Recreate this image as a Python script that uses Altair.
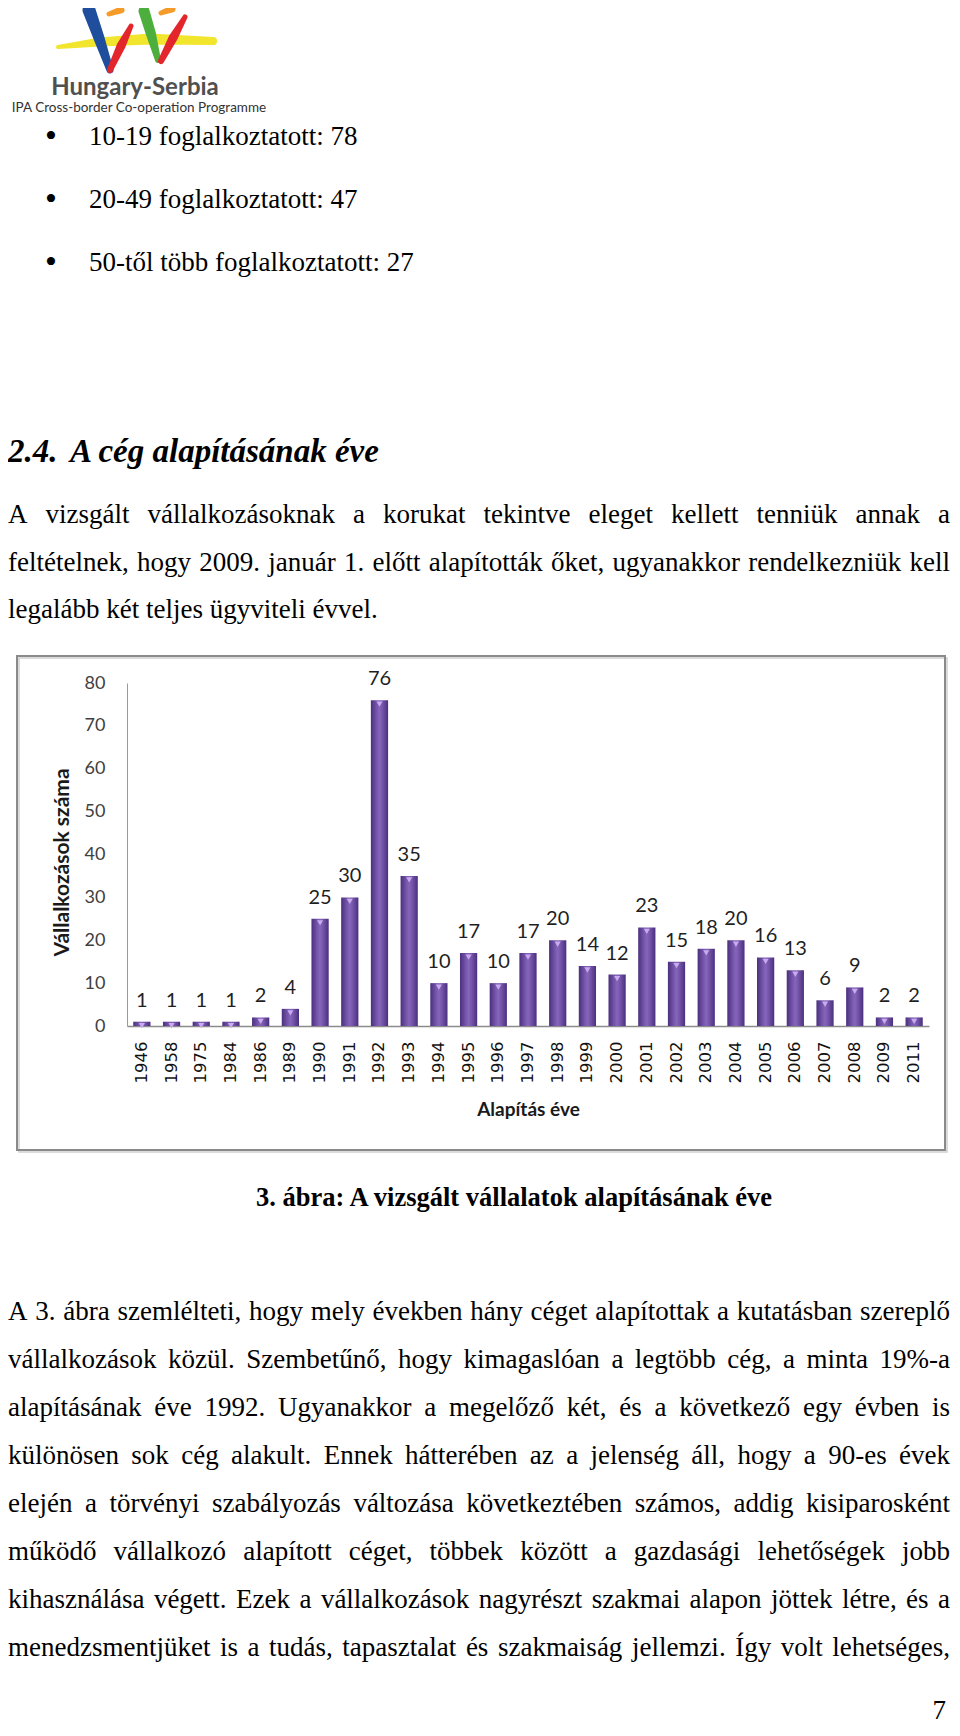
import unicodedata
import altair as alt
import pandas as pd

# ---------------- chart data ----------------
years = ["1946", "1958", "1975", "1984", "1986", "1989", "1990", "1991", "1992", "1993",
         "1994", "1995", "1996", "1997", "1998", "1999", "2000", "2001", "2002", "2003",
         "2004", "2005", "2006", "2007", "2008", "2009", "2011"]
counts = [1, 1, 1, 1, 2, 4, 25, 30, 76, 35, 10, 17, 10, 17, 20, 14, 12, 23, 15, 18,
          20, 16, 13, 6, 9, 2, 2]
y_ticks = [0, 10, 20, 30, 40, 50, 60, 70, 80]
y_title = "Vállalkozások száma"
x_title = "Alapítás éve"

# ---------------- page text ----------------
logo_title = "Hungary-Serbia"
logo_sub = "IPA Cross-border Co-operation Programme"
bullets = ["10-19 foglalkoztatott: 78", "20-49 foglalkoztatott: 47", "50-től több foglalkoztatott: 27"]
heading_num = "2.4."
heading_text = "A cég alapításának éve"
para1 = ["A vizsgált vállalkozásoknak a korukat tekintve eleget kellett tenniük annak a",
         "feltételnek, hogy 2009. január 1. előtt alapították őket, ugyanakkor rendelkezniük kell",
         "legalább két teljes ügyviteli évvel."]
caption = "3. ábra: A vizsgált vállalatok alapításának éve"
para2 = ["A 3. ábra szemlélteti, hogy mely években hány céget alapítottak a kutatásban szereplő",
         "vállalkozások közül. Szembetűnő, hogy kimagaslóan a legtöbb cég, a minta 19%-a",
         "alapításának éve 1992. Ugyanakkor a megelőző két, és a következő egy évben is",
         "különösen sok cég alakult. Ennek hátterében az a jelenség áll, hogy a 90-es évek",
         "elején a törvényi szabályozás változása következtében számos, addig kisiparosként",
         "működő vállalkozó alapított céget, többek között a gazdasági lehetőségek jobb",
         "kihasználása végett. Ezek a vállalkozások nagyrészt szakmai alapon jöttek létre, és a",
         "menedzsmentjüket is a tudás, tapasztalat és szakmaiság jellemzi. Így volt lehetséges,"]
page_no = "7"

# ---------------- layout (page pixels) ----------------
PX0, PY0 = 127, 683          # plot-area origin on the page
PLOT_W, PLOT_H = 802, 343
L_EDGE, R_EDGE = 8, 950
BODY = 27
LS1 = 47.5
LS2 = 48.0

def rx(x):
    return x - PX0

def ry(y):
    return y - PY0

# Times / Liberation Serif advance widths (per 1000 em)
_TW = {' ': 250, '.': 250, ',': 250, ':': 278, ';': 278, '-': 333, '%': 833, '•': 350}
_TW.update({d: 500 for d in "0123456789"})
_TW.update(dict(zip("abcdefghijklmnopqrstuvwxyz",
                    [444, 500, 444, 500, 444, 333, 500, 500, 278, 278, 500, 278, 778, 500, 500,
                     500, 500, 333, 389, 278, 500, 500, 722, 500, 500, 444])))
_TW.update(dict(zip("ABCDEFGHIJKLMNOPQRSTUVWXYZ",
                    [722, 667, 667, 722, 611, 556, 722, 722, 333, 389, 722, 611, 889, 722, 722,
                     556, 722, 667, 556, 611, 722, 722, 944, 722, 722, 611])))

def tw(s, size):
    tot = 0
    for ch in s:
        base = unicodedata.normalize("NFD", ch)[0]
        tot += _TW.get(base, 500)
    return tot * size / 1000.0

def layout_line(line, y, justify):
    words = line.split(" ")
    widths = [tw(w, BODY) for w in words]
    space = tw(" ", BODY)
    if justify and len(words) > 1:
        gap = (R_EDGE - L_EDGE - sum(widths)) / (len(words) - 1)
        gap = max(gap, 3.0)
    else:
        gap = space
    rows, x = [], L_EDGE
    for w, wd in zip(words, widths):
        rows.append({"t": w, "x": rx(x), "y": ry(y)})
        x += wd + gap
    return rows

body_rows = []
bullet_rows = []
for i, b in enumerate(bullets):
    yb = 137 + i * 63
    bullet_rows.append({"t": "•", "x": rx(45), "y": ry(yb)})
    body_rows.append({"t": b, "x": rx(89), "y": ry(yb)})
for i, line in enumerate(para1):
    body_rows += layout_line(line, 515 + i * LS1, i < len(para1) - 1)
for i, line in enumerate(para2):
    body_rows += layout_line(line, 1312 + i * LS2, True)
body_df = pd.DataFrame(body_rows)

def text_layer(df, font, size, weight="normal", style="normal", align="left", color="#000000"):
    return alt.Chart(df).mark_text(
        font=font, fontSize=size, fontWeight=weight, fontStyle=style,
        align=align, baseline="middle", color=color
    ).encode(
        x=alt.X("x:Q", scale=None, axis=None),
        y=alt.Y("y:Q", scale=None, axis=None),
        text="t:N",
    )

body = text_layer(body_df, "Liberation Serif", BODY)
bul = text_layer(pd.DataFrame(bullet_rows), "Liberation Serif", 34)
heading = text_layer(pd.DataFrame([{"t": heading_num, "x": rx(8), "y": ry(452)},
                                   {"t": heading_text, "x": rx(70), "y": ry(452)}]),
                     "Liberation Serif", 33, weight="bold", style="italic")
cap = text_layer(pd.DataFrame([{"t": caption, "x": rx(514), "y": ry(1198)}]),
                 "Liberation Serif", 26.5, weight="bold", align="center")
pnum = text_layer(pd.DataFrame([{"t": page_no, "x": rx(946), "y": ry(1711)}]),
                  "Liberation Serif", 27, align="right")
logo_t1 = text_layer(pd.DataFrame([{"t": logo_title, "x": rx(135), "y": ry(88)}]),
                     "Lato", 24, weight="bold", align="center", color="#505050")
logo_t2 = text_layer(pd.DataFrame([{"t": logo_sub, "x": rx(139), "y": ry(108)}]),
                     "Lato", 13.5, align="center", color="#333333")

# ---------------- logo strokes (decorative) ----------------
strokes = [
    ("#f1e52e", [(58, 47, 4), (100, 42, 9), (150, 39, 11), (213, 41, 8)]),
    ("#1f4e9c", [(89, 10, 13), (99, 38, 11), (110, 70, 7)]),
    ("#4cae3c", [(144, 11, 11), (151, 34, 10), (158, 60, 6)]),
    ("#e3262b", [(131, 26, 5), (121, 46, 9), (110, 70, 6)]),
    ("#e3262b", [(185, 17, 5), (173, 38, 9), (161, 61, 6)]),
    ("#f59b2a", [(109, 14, 5), (121, 10, 7)]),
    ("#f59b2a", [(161, 13, 5), (172, 9, 7)]),
]
logo_layers = []
for col, pts in strokes:
    d = pd.DataFrame([{"x": rx(a), "y": ry(b), "w": w, "i": k} for k, (a, b, w) in enumerate(pts)])
    logo_layers.append(
        alt.Chart(d).mark_trail(color=col).encode(
            x=alt.X("x:Q", scale=None, axis=None),
            y=alt.Y("y:Q", scale=None, axis=None),
            size=alt.Size("w:Q", scale=None, legend=None),
            order="i:Q",
        )
    )

# ---------------- chart frame ----------------
frame_df = pd.DataFrame([{"x": rx(17), "x2": rx(945), "y": ry(656), "y2": ry(1150)}])
shadow_df = pd.DataFrame([{"x": rx(19), "x2": rx(947), "y": ry(658), "y2": ry(1152)}])

def frame_layer(df, color, width):
    return alt.Chart(df).mark_rect(fillOpacity=0, stroke=color, strokeWidth=width).encode(
        x=alt.X("x:Q", scale=None, axis=None), x2="x2:Q",
        y=alt.Y("y:Q", scale=None, axis=None), y2="y2:Q",
    )

frame_shadow = frame_layer(shadow_df, "#cfcfcf", 1.5)
frame = frame_layer(frame_df, "#8a8a8a", 2)

# ---------------- bar chart ----------------
df = pd.DataFrame({"year": years, "count": counts})

bar_grad = alt.Gradient(
    gradient="linear",
    stops=[alt.GradientStop(color="#4a2f7e", offset=0),
           alt.GradientStop(color="#7152a6", offset=0.3),
           alt.GradientStop(color="#8566ba", offset=0.5),
           alt.GradientStop(color="#7152a6", offset=0.7),
           alt.GradientStop(color="#4a2f7e", offset=1)],
    x1=0, x2=1, y1=0, y2=0,
)

x_enc = alt.X(
    "year:N", sort=years,
    scale=alt.Scale(paddingInner=0.42, paddingOuter=0.21),
    axis=alt.Axis(
        title=x_title, labelAngle=-90, labelFont="DejaVu Sans", labelFontSize=16.5,
        labelColor="#111111", ticks=False, tickSize=0, labelPadding=15,
        domainColor="#8c8c8c", domainWidth=1.5,
        titleFont="Lato", titleFontSize=19, titleFontWeight="bold", titleColor="#1a1a1a",
        titleX=PLOT_W / 2, titleY=83, titleAlign="center", titleBaseline="middle",
    ),
)
y_enc = alt.Y(
    "count:Q",
    scale=alt.Scale(domain=[0, 80]),
    axis=alt.Axis(
        title=y_title, values=y_ticks, grid=False, ticks=False, tickSize=0,
        labelFont="Lato", labelFontSize=18, labelColor="#404040", labelPadding=22,
        domainColor="#9a9a9a", domainWidth=1,
        titleFont="Lato", titleFontSize=21, titleFontWeight="bold", titleColor="#1a1a1a",
        titleAngle=270, titleX=rx(62), titleY=ry(862), titleAlign="center", titleBaseline="middle",
    ),
)

bars = alt.Chart(df).mark_bar(color=bar_grad).encode(x=x_enc, y=y_enc)
tips = alt.Chart(df).mark_point(shape="triangle-down", filled=True, color="#c9aaf0",
                                size=38, opacity=1).encode(
    x=alt.X("year:N", sort=years), y="count:Q", yOffset=alt.value(4))
labels = alt.Chart(df).mark_text(font="Lato", fontSize=20, color="#1f1f1f",
                                 baseline="middle", dy=-21).encode(
    x=alt.X("year:N", sort=years), y="count:Q", text="count:Q")

chart = alt.layer(
    bars, tips, labels, frame_shadow, frame, body, bul, heading, cap, pnum,
    *logo_layers, logo_t1, logo_t2,
).properties(
    width=PLOT_W, height=PLOT_H,
    padding={"left": PX0 - 8, "top": PY0 - 8,
             "right": 952 - (PX0 + PLOT_W), "bottom": 1728 - (PY0 + PLOT_H)},
    autosize=alt.AutoSizeParams(type="none"),
    background="white",
).configure_view(stroke=None)

chart.save("out.html", embed_options={"renderer": "svg", "actions": False})
